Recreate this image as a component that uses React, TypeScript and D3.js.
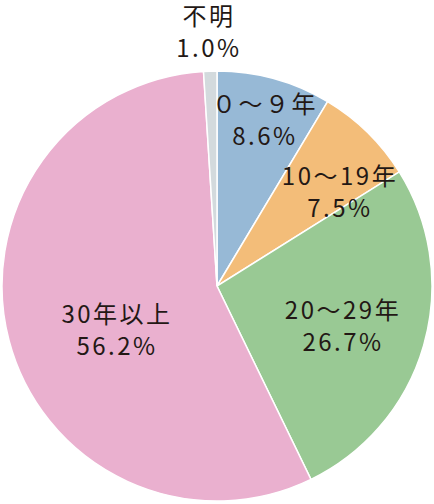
import { useMemo } from "react";
import * as d3 from "d3";

// 経験年数の構成比（%）
const categories = ["０～９年", "10～19年", "20～29年", "30年以上", "不明"];
const shares = [8.6, 7.5, 26.7, 56.2, 1.0];
const colors = ["#97b9d6", "#f3bd79", "#99c994", "#eab0cf", "#d3dadd"];

// label anchors relative to the pie centre (first line baseline)
const labelOffsets: [number, number][] = [
  [48, -173],
  [123, -101],
  [126, 33],
  [-100, 37],
  [-8, -261],
];

const width = 434;
const height = 504;
const cx = 217;
const cy = 286;
const radius = 215;

export default function App() {
  const arcs = useMemo(() => {
    const pie = d3
      .pie<number>()
      .sort(null)
      .value((d) => d);
    return pie(shares);
  }, []);

  const arc = d3.arc<d3.PieArcDatum<number>>().innerRadius(0).outerRadius(radius);

  return (
    <svg
      width={width}
      height={height}
      style={{ position: "absolute", left: 0, top: 0 }}
      fontFamily="'Noto Sans CJK JP', sans-serif"
    >
      <g transform={`translate(${cx},${cy})`}>
        {arcs.map((a, i) => (
          <path
            key={categories[i]}
            d={arc(a) ?? ""}
            fill={colors[i]}
            stroke="#fff"
            strokeWidth={1.5}
          />
        ))}
        {arcs.map((a, i) => (
          <text
            key={"t" + i}
            x={labelOffsets[i][0]}
            y={labelOffsets[i][1]}
            textAnchor="middle"
            fontSize={24}
            letterSpacing={2.5}
            fill="#231815"
          >
            <tspan x={labelOffsets[i][0]}>{categories[i]}</tspan>
            <tspan x={labelOffsets[i][0]} dy={32}>
              {d3.format(".1f")(a.value)}%
            </tspan>
          </text>
        ))}
      </g>
    </svg>
  );
}
